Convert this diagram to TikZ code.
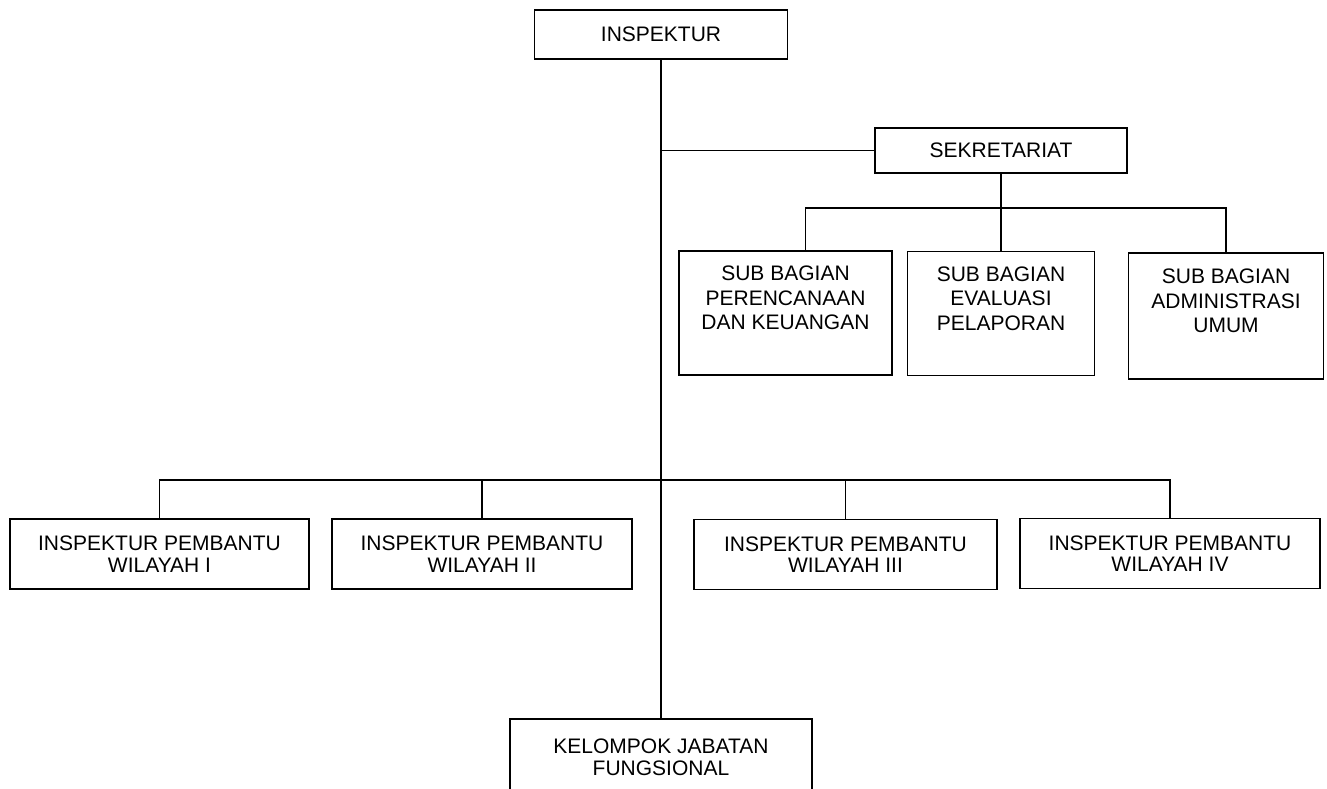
\documentclass[tikz,border=0pt]{standalone}
\usepackage{fontspec}
\setmainfont{Liberation Sans}
\usepackage{tikz}

\begin{document}
\begin{tikzpicture}[x=1pt, y=-1pt,
    box/.style={draw, line width=1.3pt, inner sep=0pt, outer sep=0pt, align=center,
                minimum width=300pt, minimum height=70pt,
                font=\fontsize{21}{21.5}\selectfont},
    subbox/.style={box, minimum width=#1, minimum height=124pt, text depth=30pt,
                   font=\fontsize{21}{24.5}\selectfont},
    link/.style={line width=1.3pt}
]
\useasboundingbox (0,0) rectangle (1327,789);

\node[box, minimum width=253pt, minimum height=49pt] (insp) at (661,34.5) {INSPEKTUR};
\node[box, minimum width=252pt, minimum height=45pt] (sek) at (1001,150.5) {SEKRETARIAT};

\node[subbox=213pt] (sb1) at (785.5,313) {SUB BAGIAN\\PERENCANAAN\\DAN KEUANGAN};
\node[subbox=187pt] (sb2) at (1001,313.5) {SUB BAGIAN\\EVALUASI\\PELAPORAN};
\node[subbox=195pt, minimum height=126pt] (sb3) at (1226,316) {SUB BAGIAN\\ADMINISTRASI\\UMUM};

\node[box, minimum width=299pt] (ipw1) at (159.5,554) {INSPEKTUR PEMBANTU\\WILAYAH I};
\node[box] (ipw2) at (482,554) {INSPEKTUR PEMBANTU\\WILAYAH II};
\node[box, minimum width=303pt] (ipw3) at (845.5,554.5) {INSPEKTUR PEMBANTU\\WILAYAH III};
\node[box] (ipw4) at (1170,553.5) {INSPEKTUR PEMBANTU\\WILAYAH IV};

\node[box, minimum width=302pt, minimum height=77pt] (kjf) at (661,757.5) {KELOMPOK JABATAN\\FUNGSIONAL};

\coordinate (sekbus) at (1001,208);
\coordinate (ipbus) at (661,480);

\draw[link] (insp) -- (kjf);
\draw[link] (insp.south |- sek.west) -- (sek.west);
\draw[link] (sek.south) -- (sekbus);
\draw[link] ([xshift=20pt]sb1.north) |- (sb3.north |- sekbus) -- (sb3.north);
\draw[link] (sekbus) -- (sb2.north);
\draw[link] (ipw1.north) |- (ipw4.north |- ipbus) -- (ipw4.north);
\draw[link] (ipw2.north) -- (ipw2.north |- ipbus);
\draw[link] (ipw3.north) -- (ipw3.north |- ipbus);
\end{tikzpicture}
\end{document}
